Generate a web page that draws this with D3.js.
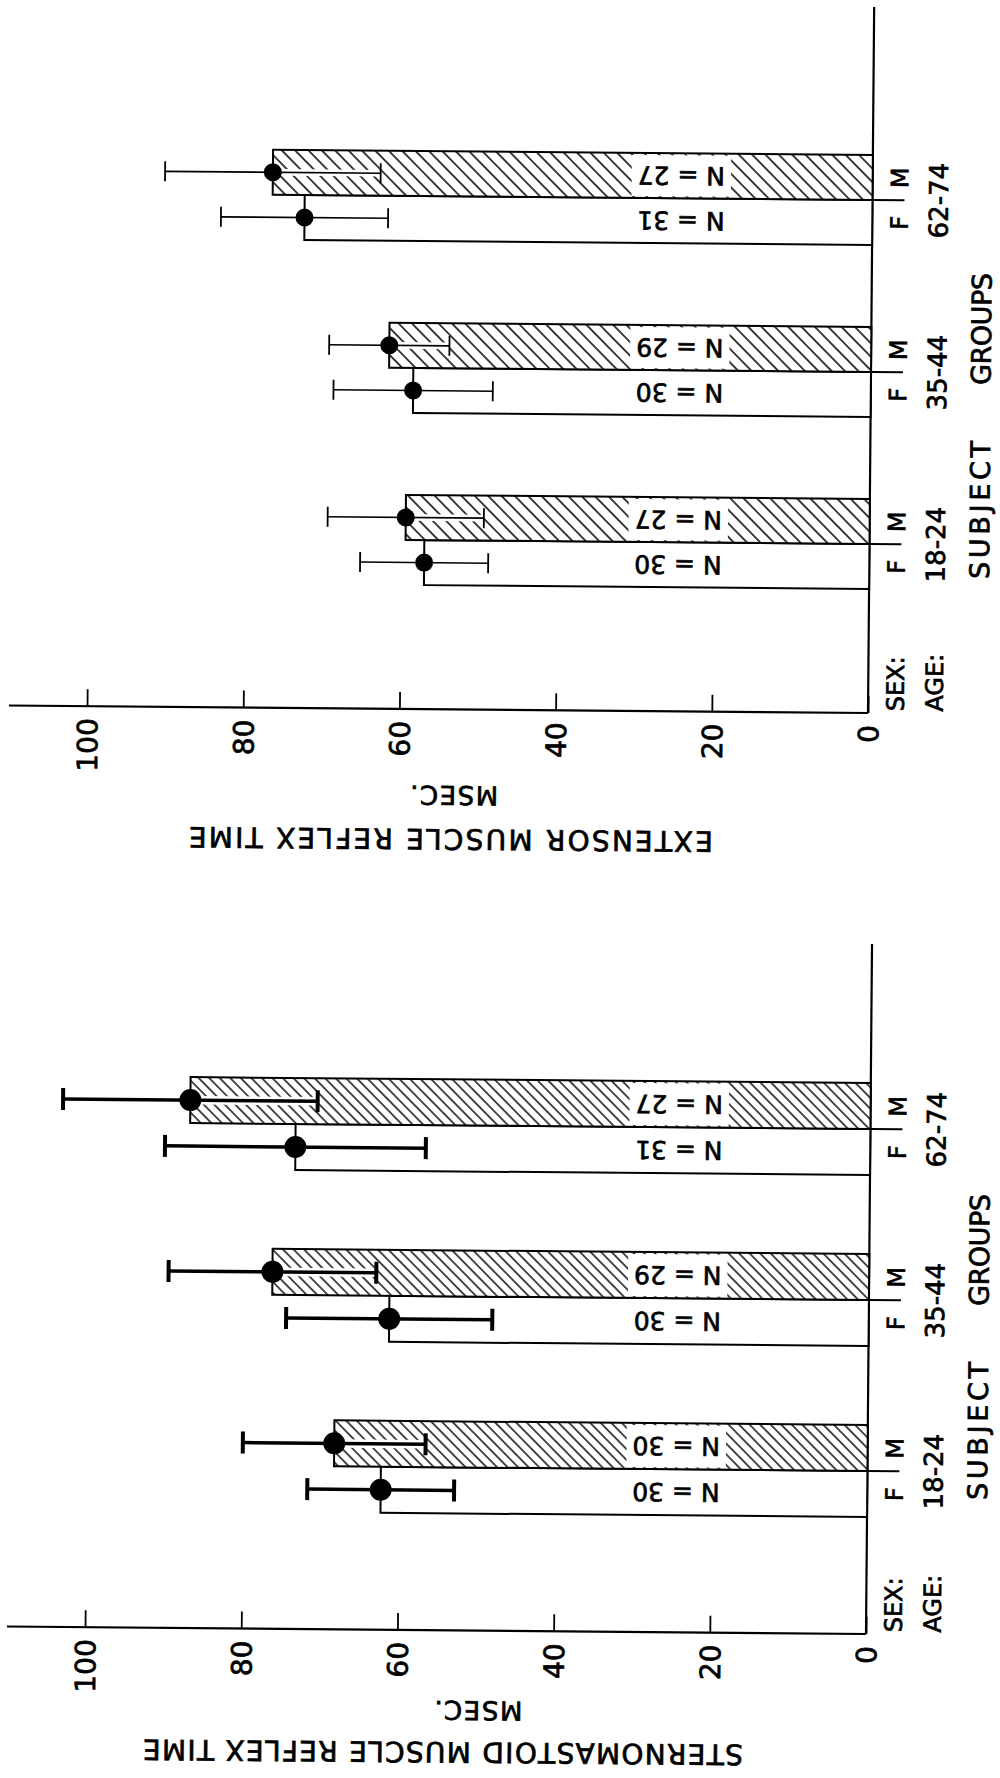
<!DOCTYPE html>
<html>
<head>
<meta charset="utf-8">
<script src="https://cdn.jsdelivr.net/npm/d3@7"></script>
<style>
body { margin: 0; background: #fff; }
svg text { font-family: "DejaVu Sans", sans-serif; fill: #000; stroke: #000; stroke-width: 0.7px; }
</style>
</head>
<body>
<svg id="chart" width="1000" height="1778"></svg>
<script>
// subject groups and value axis
var groups = ["18-24", "35-44", "62-74"];
var valueTicks = [0, 20, 40, 60, 80, 100];

// extensor muscle reflex time (msec)
var extFemaleMean = [57.0, 58.6, 72.7];
var extFemaleSd = [8.2, 10.2, 10.7];
var extMaleMean = [59.4, 61.7, 76.8];
var extMaleSd = [10.0, 7.7, 13.8];
var extFemaleN = [30, 30, 31];
var extMaleN = [27, 29, 27];

// sternomastoid muscle reflex time (msec)
var sternFemaleMean = [62.3, 61.4, 73.6];
var sternFemaleSd = [9.4, 13.2, 16.7];
var sternMaleMean = [68.3, 76.4, 87.1];
var sternMaleSd = [11.7, 13.3, 16.3];
var sternFemaleN = [30, 30, 31];
var sternMaleN = [30, 29, 27];

const TILT = 0.5;
const LABEL_AT = 24.5;

var svg = d3.select("#chart");
var defs = svg.append("defs");

function addHatch(id, step, width) {
    var p = defs.append("pattern")
        .attr("id", id)
        .attr("patternUnits", "userSpaceOnUse")
        .attr("width", step)
        .attr("height", step)
        .attr("patternTransform", "rotate(-45)");
    p.append("rect").attr("width", step).attr("height", step).attr("fill", "#fff");
    p.append("line")
        .attr("x1", step / 2).attr("x2", step / 2)
        .attr("y1", 0).attr("y2", step)
        .attr("stroke", "#000").attr("stroke-width", width);
}
addHatch("hatchTop", 9.5, 1.5);
addHatch("hatchBottom", 7.5, 1.4);

function rotText(g, str, tx, ty, angle, size, anchor) {
    return g.append("text")
        .attr("transform", "translate(" + tx + "," + ty + ") rotate(" + angle + ")")
        .attr("text-anchor", anchor || "middle")
        .attr("dy", "0.36em")
        .style("font-size", size + "px")
        .text(str);
}

function drawPanel(p) {
    var g = svg.append("g")
        .attr("transform", "translate(" + p.x0 + "," + p.y0 + ") rotate(" + TILT + ")");

    var x = d3.scaleLinear().domain([0, 100]).range([0, -p.span]);
    var y = d3.scalePoint().domain(groups).range(p.bandRange);
    var bw = p.barWidth;

    // value axis with inward ticks
    var axis = d3.axisBottom(x)
        .tickValues(valueTicks)
        .tickSizeInner(-17)
        .tickSizeOuter(0)
        .tickFormat(d3.format("d"));
    var ax = g.append("g").call(axis)
        .attr("font-family", null).attr("font-size", null);
    ax.select(".domain").remove();
    ax.selectAll(".tick line").attr("stroke", "#000").attr("stroke-width", 1.8);
    ax.selectAll(".tick text")
        .attr("transform", "rotate(-90)")
        .attr("x", -12).attr("y", 0).attr("dy", "0.36em")
        .attr("text-anchor", "end")
        .attr("fill", "#000")
        .style("font-size", "28px");

    g.append("line")
        .attr("x1", x(0)).attr("x2", x(110))
        .attr("y1", 0).attr("y2", 0)
        .attr("stroke", "#000").attr("stroke-width", 2.2);
    g.append("line")
        .attr("x1", 0).attr("x2", 0)
        .attr("y1", 0).attr("y2", -p.axisLen)
        .attr("stroke", "#000").attr("stroke-width", 2.2);

    var rows = [];
    groups.forEach(function (name, i) {
        rows.push({ group: name, sex: "F", mean: p.fMean[i], sd: p.fSd[i], n: p.fN[i], top: y(name) });
        rows.push({ group: name, sex: "M", mean: p.mMean[i], sd: p.mSd[i], n: p.mN[i], top: y(name) - bw });
    });

    // bars
    g.selectAll(".bar")
        .data(rows)
        .enter()
        .append("rect")
        .attr("class", "bar")
        .attr("x", function (d) { return x(d.mean); })
        .attr("y", function (d) { return d.top; })
        .attr("width", function (d) { return x(0) - x(d.mean); })
        .attr("height", bw)
        .attr("fill", function (d) { return d.sex === "M" ? "url(#" + p.hatch + ")" : "#fff"; })
        .attr("stroke", "#000")
        .attr("stroke-width", 2);

    // N labels, upside down as in the rotated figure
    rows.forEach(function (d) {
        var cy = d.top + bw / 2;
        var t = rotText(g, "N = " + d.n, x(LABEL_AT), cy, 180, 25);
        if (d.sex === "M") {
            var w = t.node().getComputedTextLength() + 12;
            g.insert("rect", function () { return t.node(); })
                .attr("x", x(LABEL_AT) - w / 2)
                .attr("y", d.top + 2)
                .attr("width", w)
                .attr("height", bw - 4)
                .attr("fill", "#fff");
        }
    });

    // error bars
    var eb = g.selectAll(".err")
        .data(rows)
        .enter()
        .append("g")
        .attr("class", "err")
        .attr("transform", function (d) { return "translate(0," + (d.top + bw / 2) + ")"; });
    eb.append("line")
        .attr("x1", function (d) { return x(d.mean + d.sd); })
        .attr("x2", function (d) { return x(d.mean - d.sd); })
        .attr("stroke", "#fff").attr("stroke-width", p.whisker + 5);
    eb.append("line")
        .attr("x1", function (d) { return x(d.mean + d.sd); })
        .attr("x2", function (d) { return x(d.mean - d.sd); })
        .attr("stroke", "#000").attr("stroke-width", p.whisker);
    [1, -1].forEach(function (s) {
        eb.append("line")
            .attr("x1", function (d) { return x(d.mean + s * d.sd); })
            .attr("x2", function (d) { return x(d.mean + s * d.sd); })
            .attr("y1", -p.cap).attr("y2", p.cap)
            .attr("stroke", "#000").attr("stroke-width", p.capWidth);
    });
    eb.append("circle")
        .attr("cx", function (d) { return x(d.mean); })
        .attr("r", p.dot)
        .attr("fill", "#000");

    // category labels
    groups.forEach(function (name) {
        g.append("line")
            .attr("x1", 0).attr("x2", 32)
            .attr("y1", y(name)).attr("y2", y(name))
            .attr("stroke", "#000").attr("stroke-width", 2);
        rotText(g, "F", 27, y(name) + bw / 2, -90, 24);
        rotText(g, "M", 27, y(name) - bw / 2, -90, 24);
        rotText(g, name, 66, y(name), -90, 26);
    });
    rotText(g, "SEX:", 27, -2, -90, 24, "start");
    rotText(g, "AGE:", 66, -2, -90, 24, "start");
    rotText(g, "SUBJECT", 110, -204, -90, 27).attr("textLength", 138).attr("lengthAdjust", "spacing");
    rotText(g, "GROUPS", 110, -385, -90, 27).attr("textLength", 112).attr("lengthAdjust", "spacing");

    // value axis title, upside down
    rotText(g, "MSEC.", p.unitX, p.unitY, 180, 26).attr("textLength", 88).attr("lengthAdjust", "spacing");
    rotText(g, p.title, p.titleX, p.titleY, 180, 28).attr("textLength", p.titleLen).attr("lengthAdjust", "spacing");
}

drawPanel({
    x0: 868, y0: 713, span: 781, axisLen: 706, barWidth: 45, bandRange: [-169, -513],
    fMean: extFemaleMean, fSd: extFemaleSd, fN: extFemaleN,
    mMean: extMaleMean, mSd: extMaleSd, mN: extMaleN,
    hatch: "hatchTop", whisker: 1.6, cap: 10, capWidth: 1.8, dot: 9,
    title: "EXTENSOR MUSCLE REFLEX TIME", titleLen: 524,
    unitX: -413, unitY: 86, titleX: -416, titleY: 130
});

drawPanel({
    x0: 866, y0: 1634, span: 781, axisLen: 690, barWidth: 46, bandRange: [-163, -505],
    fMean: sternFemaleMean, fSd: sternFemaleSd, fN: sternFemaleN,
    mMean: sternMaleMean, mSd: sternMaleSd, mN: sternMaleN,
    hatch: "hatchBottom", whisker: 3.5, cap: 11, capWidth: 4, dot: 11,
    title: "STERNOMASTOID MUSCLE REFLEX TIME", titleLen: 600,
    unitX: -387, unitY: 80, titleX: -422, titleY: 122
});
</script>
</body>
</html>
